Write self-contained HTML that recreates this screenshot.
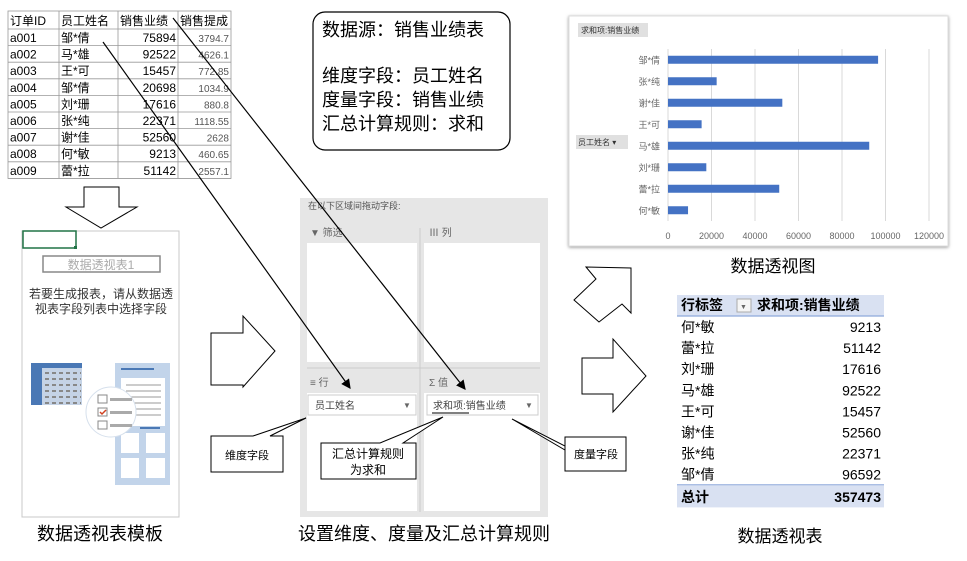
<!DOCTYPE html>
<html><head><meta charset="utf-8">
<style>
body{margin:0;background:#fff;width:967px;height:556px;overflow:hidden;font-family:"Liberation Sans","Noto Sans CJK SC",sans-serif;}
svg text{font-family:"Liberation Sans","Noto Sans CJK SC",sans-serif;}
</style></head>
<body>
<svg id="root" width="967" height="556" viewBox="0 0 967 556" xmlns="http://www.w3.org/2000/svg">
<defs>
<marker id="ah" markerWidth="8" markerHeight="8" refX="7" refY="4" orient="auto"><path d="M0,0 L8,4 L0,8 z" fill="#000"/></marker>
<filter id="sh"><feDropShadow dx="0" dy="1" stdDeviation="1.5" flood-color="#999"/></filter>
</defs>

<g id="src" font-size="12"></g>

<polygon points="84,187 119,187 119,207 137,207 101,228 66,207 84,207" fill="#fff" stroke="#000" stroke-width="1"/>

<g>
<rect x="22" y="231" width="157" height="286" fill="#fff" stroke="#c8c8c8"/>
<rect x="23" y="231" width="53" height="17" fill="none" stroke="#217346" stroke-width="1.5"/>
<rect x="74" y="246" width="3" height="3" fill="#217346"/>
<rect x="43" y="256" width="117" height="16" fill="#fff" stroke="#888" stroke-width="1.5"/>
<text x="101" y="269" font-size="12" fill="#aaa" text-anchor="middle">数据透视表1</text>
<text x="101" y="298" font-size="12" fill="#333" text-anchor="middle">若要生成报表，请从数据透</text>
<text x="101" y="313" font-size="12" fill="#333" text-anchor="middle">视表字段列表中选择字段</text>
<rect x="31" y="363" width="51" height="42" fill="#c5d3e6"/>
<rect x="31" y="363" width="11" height="42" fill="#4a78b5"/>
<rect x="31" y="363" width="51" height="5" fill="#4a78b5"/>
<g stroke="#888" stroke-width="2" stroke-dasharray="4,3">
<line x1="45" y1="373" x2="81" y2="373"/><line x1="45" y1="379" x2="81" y2="379"/><line x1="45" y1="385" x2="81" y2="385"/><line x1="45" y1="391" x2="81" y2="391"/><line x1="45" y1="397" x2="81" y2="397"/><line x1="45" y1="403" x2="81" y2="403"/>
</g>
<rect x="115" y="363" width="55" height="122" fill="#c2d4ea"/>
<rect x="121" y="368" width="33" height="2" fill="#4a78b5"/>
<rect x="121" y="378" width="44" height="48" fill="#fff"/>
<g stroke="#999"><line x1="126" y1="385" x2="161" y2="385"/><line x1="126" y1="391" x2="161" y2="391"/><line x1="126" y1="397" x2="161" y2="397"/><line x1="126" y1="403" x2="161" y2="403"/><line x1="126" y1="409" x2="161" y2="409"/><line x1="126" y1="415" x2="161" y2="415"/></g>
<rect x="140" y="427" width="20" height="2" fill="#4a78b5"/>
<rect x="121" y="433" width="18" height="20" fill="#fff"/><rect x="146" y="433" width="19" height="20" fill="#fff"/>
<rect x="121" y="458" width="18" height="20" fill="#fff"/><rect x="146" y="458" width="19" height="20" fill="#fff"/>
<circle cx="111" cy="412" r="25" fill="#fff" stroke="#d6e0ec"/>
<rect x="98" y="395" width="9" height="8" fill="#fff" stroke="#888"/><rect x="110" y="398" width="22" height="3" fill="#aaa"/>
<rect x="98" y="408" width="9" height="8" fill="#fff" stroke="#888"/><rect x="110" y="411" width="22" height="3" fill="#aaa"/>
<path d="M100,412 l2,2 l4,-4" stroke="#d04020" fill="none" stroke-width="1.5"/>
<rect x="98" y="421" width="9" height="8" fill="#fff" stroke="#888"/><rect x="110" y="424" width="22" height="3" fill="#aaa"/>
</g>
<text x="100" y="540" font-size="18" text-anchor="middle">数据透视表模板</text>

<polygon points="211,333 243,333 243,316 275,351 243,387 243,385 211,385" fill="#fff" stroke="#000"/>

<g font-size="18">
<rect x="313" y="12" width="197" height="138" rx="12" fill="#fff" stroke="#000" stroke-width="1.2"/>
<text x="322" y="36">数据源：销售业绩表</text>
<text x="322" y="82">维度字段：员工姓名</text>
<text x="322" y="106">度量字段：销售业绩</text>
<text x="322" y="130">汇总计算规则：求和</text>
</g>

<g>
<rect x="300" y="198" width="248" height="319" fill="#e6e6e6"/>
<text x="308" y="209" font-size="9" fill="#555">在以下区域间拖动字段:</text>
<text x="310" y="236" font-size="10" fill="#666">▼ 筛选</text>
<text x="429" y="236" font-size="10" fill="#666">Ⅲ 列</text>
<rect x="307" y="243" width="110" height="119" fill="#fff"/>
<rect x="424" y="243" width="116" height="119" fill="#fff"/>
<line x1="307" y1="368" x2="540" y2="368" stroke="#ccc"/>
<line x1="420" y1="228" x2="420" y2="512" stroke="#ccc"/>
<text x="310" y="386" font-size="10" fill="#666">≡ 行</text>
<text x="429" y="386" font-size="10" fill="#666">Σ 值</text>
<rect x="307" y="393" width="110" height="118" fill="#fff"/>
<rect x="424" y="393" width="116" height="118" fill="#fff"/>
<rect x="308" y="395" width="108" height="20" fill="#fff" stroke="#ccc"/>
<text x="315" y="409" font-size="10" fill="#444">员工姓名</text>
<text x="403" y="408" font-size="8" fill="#666">▼</text>
<rect x="427" y="395" width="111" height="20" fill="#fff" stroke="#ccc"/>
<text x="433" y="409" font-size="10" fill="#444">求和项:销售业绩</text>
<line x1="432" y1="413" x2="469" y2="413" stroke="#000" stroke-width="1"/>
<text x="525" y="408" font-size="8" fill="#666">▼</text>
</g>
<text x="424" y="540" font-size="18" text-anchor="middle">设置维度、度量及汇总计算规则</text>

<line x1="103" y1="42" x2="350" y2="388" stroke="#000" stroke-width="1.2" marker-end="url(#ah)"/>
<line x1="173" y1="18" x2="465" y2="389" stroke="#000" stroke-width="1.2" marker-end="url(#ah)"/>

<g>
<polygon points="211,436 253,436 306,418 270,436 283,436 283,472 211,472" fill="#fff" stroke="#000"/>
<text x="247" y="459" font-size="11" text-anchor="middle">维度字段</text>
</g>
<g>
<polygon points="321,443 380,443 443,417 403,443 416,443 416,479 321,479" fill="#fff" stroke="#000"/>
<text x="368" y="458" font-size="12" text-anchor="middle">汇总计算规则</text>
<text x="368" y="474" font-size="12" text-anchor="middle">为求和</text>
</g>
<g>
<polygon points="565,437 565,450 512,419 565,446 565,471 626,471 626,437" fill="#fff" stroke="#000"/>
<text x="596" y="458" font-size="11" text-anchor="middle">度量字段</text>
</g>

<g>
<rect x="569" y="16" width="379" height="230" fill="#fff" stroke="#ddd" filter="url(#sh)"/>
<rect x="578" y="23" width="70" height="14" fill="#e0e0e0"/>
<text x="581" y="33" font-size="8" fill="#333">求和项:销售业绩</text>
<rect x="576" y="135" width="52" height="14" fill="#e0e0e0"/>
<text x="578" y="145" font-size="8" fill="#333">员工姓名  ▾</text>
<g id="chart"></g>
</g>
<text x="773" y="272" font-size="17" text-anchor="middle">数据透视图</text>

<polygon points="586,267 631,268 631,313 622,304 599,322 574,300 596,279" fill="#fff" stroke="#000"/>
<polygon points="582,358 613,358 613,339 646,376 613,412 613,394 582,394" fill="#fff" stroke="#000"/>

<g id="ptable"></g>
<text x="780" y="542" font-size="17" text-anchor="middle">数据透视表</text>
</svg>

<script>
const NS="http://www.w3.org/2000/svg";
function mk(tag,attrs,parent,txt){const e=document.createElementNS(NS,tag);for(const k in attrs)e.setAttribute(k,attrs[k]);if(txt!==undefined)e.textContent=txt;parent.appendChild(e);return e;}

const srcHeaders=["订单ID","员工姓名","销售业绩","销售提成"];
const srcIds=["a001","a002","a003","a004","a005","a006","a007","a008","a009"];
const srcNames=["邹*倩","马*雄","王*可","邹*倩","刘*珊","张*纯","谢*佳","何*敏","蕾*拉"];
const srcSales=[75894,92522,15457,20698,17616,22371,52560,9213,51142];
const srcComm=["3794.7","4626.1","772.85","1034.9","880.8","1118.55","2628","460.65","2557.1"];

const catNames=["邹*倩","张*纯","谢*佳","王*可","马*雄","刘*珊","蕾*拉","何*敏"];
const catValues=[96592,22371,52560,15457,92522,17616,51142,9213];
const xTicks=[0,20000,40000,60000,80000,100000,120000];
const xMax=120000;

const ptNames=["何*敏","蕾*拉","刘*珊","马*雄","王*可","谢*佳","张*纯","邹*倩"];
const ptValues=[9213,51142,17616,92522,15457,52560,22371,96592];
const ptTotal="357473";

(function(){
const src=document.getElementById('src');
const cx=[8,59,118,178,231];
const tTop=11,hh=18,rh=16.6;
const nrows=srcIds.length;
const tBot=tTop+hh+rh*nrows;
mk('rect',{x:8,y:tTop,width:223,height:tBot-tTop,fill:'#fff',stroke:'#999','stroke-width':0.8},src);
for(let i=1;i<4;i++)mk('line',{x1:cx[i],y1:tTop,x2:cx[i],y2:tBot,stroke:'#999','stroke-width':0.8},src);
for(let j=0;j<=nrows;j++)mk('line',{x1:8,y1:tTop+hh+rh*j,x2:231,y2:tTop+hh+rh*j,stroke:'#999','stroke-width':0.8},src);
srcHeaders.forEach((h,i)=>{const t=mk('text',{x:cx[i]+2,y:tTop+14,'font-size':12},src,h);

});
srcIds.forEach((id,j)=>{
 const y=tTop+hh+rh*j+13;
 mk('text',{x:10,y:y,'font-size':12},src,id);
 mk('text',{x:61,y:y,'font-size':12},src,srcNames[j]);
 const s=mk('text',{x:176,y:y,'font-size':12,'text-anchor':'end'},src,String(srcSales[j]));
 
 
 mk('text',{x:229,y:y,'font-size':10,'text-anchor':'end',fill:'#555'},src,srcComm[j]);
});

const chart=document.getElementById('chart');
const px0=668,px1=929,ptop=49,pbot=221;
function xs(v){return px0+(px1-px0)*v/xMax;}
const band=(pbot-ptop)/catNames.length;
function ys(i){return ptop+band*(i+0.5);}
xTicks.forEach(t=>{
 const l=mk('line',{x1:xs(t),y1:ptop,x2:xs(t),y2:pbot,stroke:'#d9d9d9'},chart);
 
 
 const tx=mk('text',{x:xs(t),y:239,'font-size':9,fill:'#666','text-anchor':'middle'},chart,String(t));
 
 
});
catNames.forEach((n,i)=>{
 const b=mk('rect',{x:xs(0),y:ys(i)-4,width:xs(catValues[i])-xs(0),height:8,fill:'#4472c4'},chart);
 
 
 const t=mk('text',{x:660,y:ys(i)+3.5,'font-size':9,fill:'#666','text-anchor':'end'},chart,n);
 
 
});

const pt=document.getElementById('ptable');
const tx0=677,tx1=884,ty0=295,th=21,trh=21.1;
mk('rect',{x:tx0,y:ty0,width:tx1-tx0,height:th,fill:'#d9e1f2'},pt);
mk('line',{x1:tx0,y1:ty0+th,x2:tx1,y2:ty0+th,stroke:'#8ea9db','stroke-width':1.2},pt);
mk('text',{x:681,y:ty0+15,'font-size':14,'font-weight':'bold'},pt,'行标签');
const dd=mk('rect',{x:737,y:ty0+4,width:14,height:13,fill:'#f5f5f5',stroke:'#aaa'},pt);


mk('text',{x:740,y:ty0+14,'font-size':7,fill:'#666'},pt,'▼');
mk('text',{x:757,y:ty0+15,'font-size':14,'font-weight':'bold'},pt,'求和项:销售业绩');
ptNames.forEach((n,i)=>{
 const y=ty0+th+trh*i+16;
 mk('text',{x:681,y:y,'font-size':14},pt,n);
 const v=mk('text',{x:881,y:y,'font-size':14,'text-anchor':'end'},pt,String(ptValues[i]));
 
 
});
const ty=ty0+th+trh*ptNames.length;
mk('line',{x1:tx0,y1:ty,x2:tx1,y2:ty,stroke:'#8ea9db','stroke-width':1.2},pt);
mk('rect',{x:tx0,y:ty+0.6,width:tx1-tx0,height:22,fill:'#d9e1f2'},pt);
mk('text',{x:681,y:ty+17,'font-size':14,'font-weight':'bold'},pt,'总计');
const tot=mk('text',{x:881,y:ty+17,'font-size':14,'font-weight':'bold','text-anchor':'end'},pt,ptTotal);


})();
</script>
</body></html>
